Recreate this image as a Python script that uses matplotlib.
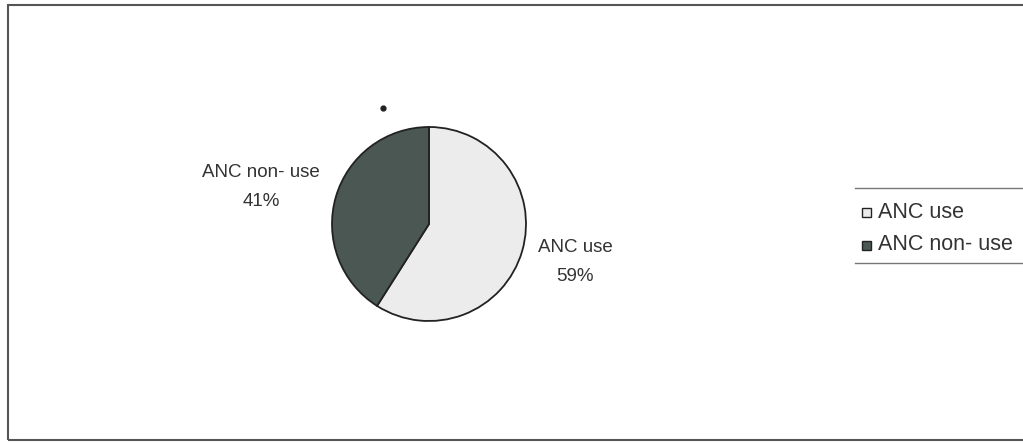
import matplotlib.pyplot as plt
from matplotlib.patches import Rectangle

# data
labels = ['ANC use', 'ANC non- use']
values = [59, 41]
colors = ['#ececec', '#4a5752']

plt.rcParams['font.family'] = ['Liberation Sans', 'DejaVu Sans']

fig = plt.figure(figsize=(10.23, 4.43), dpi=100)

# chart border (right side cut off)
fig.add_artist(Rectangle((8 / 1023, 1 - 440 / 443), 1.2, (440 - 5) / 443,
                         transform=fig.transFigure, fill=False,
                         edgecolor='#555555', linewidth=1.5))

# pie axes: center (429,224), radius ~97 px
cx, cy, r = 429, 224, 97
ax = fig.add_axes([(cx - r) / 1023, 1 - (cy + r) / 443, 2 * r / 1023, 2 * r / 443])
wedges, _ = ax.pie(values, colors=colors, startangle=90, counterclock=False,
                   wedgeprops=dict(edgecolor='#222222', linewidth=1.3))
ax.set_aspect('equal')
ax.set_xlim(-1, 1)
ax.set_ylim(-1, 1)

# slice labels
fig.text(575 / 1023, 1 - 262 / 443, labels[0] + '\n' + str(values[0]) + '%',
         ha='center', va='center', fontsize=13.5, color='#333333', linespacing=1.85)
fig.text(261 / 1023, 1 - 187 / 443, labels[1] + '\n' + str(values[1]) + '%',
         ha='center', va='center', fontsize=13.5, color='#333333', linespacing=1.85)

# stray dot
fig.add_artist(plt.Line2D([383 / 1023], [1 - 108 / 443], marker='o', markersize=3.5,
                          color='#222222', linestyle='none'))

# legend lines
fig.add_artist(plt.Line2D([855 / 1023, 1], [1 - 188 / 443] * 2, color='#777777', linewidth=1))
fig.add_artist(plt.Line2D([855 / 1023, 1], [1 - 263 / 443] * 2, color='#777777', linewidth=1))
leg_y = [213, 245]
for i in range(2):
    y = 1 - leg_y[i] / 443
    fig.add_artist(Rectangle((862 / 1023, y - 4.5 / 443), 9 / 1023, 9 / 443,
                             transform=fig.transFigure, facecolor=colors[i],
                             edgecolor='#222222', linewidth=1))
    fig.text(878 / 1023, y, labels[i], ha='left', va='center',
             fontsize=15.5, color='#333333')

fig.savefig('out.png', dpi=100)
